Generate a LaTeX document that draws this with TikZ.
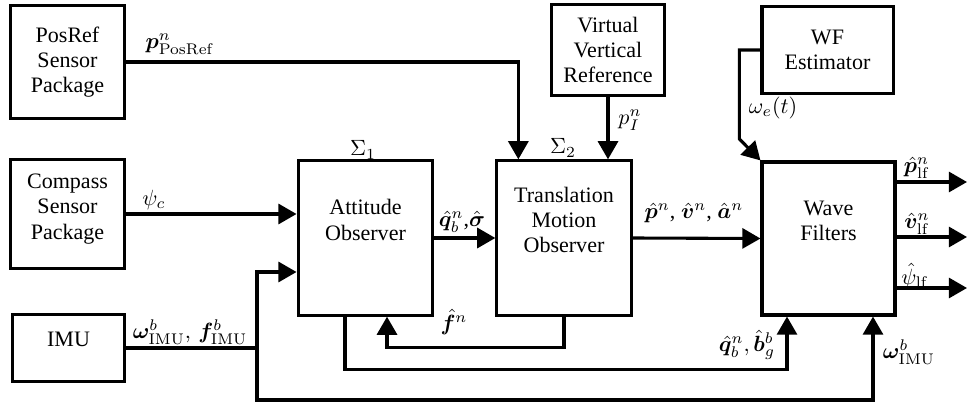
\documentclass[tikz,border=0pt]{standalone}
\usepackage{amsmath,bm}
\usepackage[no-math]{fontspec}
\setmainfont{Liberation Serif}
\usetikzlibrary{arrows.meta,calc}

\begin{document}
\begin{tikzpicture}[x=0.01595cm, y=-0.01595cm,
    font=\fontsize{10}{11.5}\selectfont,
    block/.style={draw, line width=1.4pt, inner sep=0pt},
    inside/.style={align=center},
    line/.style={line width=1.4pt},
    conn/.style={line, -{Triangle[length=0.29cm, width=0.32cm]}}]
    \useasboundingbox (0,0) rectangle (967,407);

    % Blocks
    \node[block, minimum width=1.83cm, minimum height=1.79cm,
        label={[inside]center:PosRef\\Sensor\\Package}] (posref) at (67.5,62) {};
    \node[block, minimum width=1.83cm, minimum height=1.75cm,
        label={[inside, yshift=0.08cm]center:Compass\\Sensor\\Package}] (compass) at (67.5,214) {};
    \node[block, minimum width=1.80cm, minimum height=1.07cm,
        label={[inside, yshift=0.14cm]center:IMU}] (imu) at (68.5,348) {};
    \node[block, minimum width=2.15cm, minimum height=2.46cm,
        label={[inside, yshift=0.29cm]center:Attitude\\Observer}] (att) at (365.5,238) {};
    \node[block, minimum width=2.14cm, minimum height=2.46cm,
        label={[inside, yshift=0.29cm]center:Translation\\Motion\\Observer}] (trans) at (564,238) {};
    \node[block, minimum width=1.79cm, minimum height=1.44cm,
        label={[inside]center:Virtual\\Vertical\\Reference}] (vvr) at (608,50) {};
    \node[block, minimum width=2.09cm, minimum height=1.39cm,
        label={[inside]center:WF\\Estimator}] (wfe) at (827.5,50) {};
    \node[block, minimum width=2.12cm, minimum height=2.44cm,
        label={[inside, yshift=0.28cm]center:Wave\\Filters}] (wave) at (828.5,238.5) {};

    \node (sig1) at (363,150) {$\Sigma_1$};
    \node (sig2) at (563,148) {$\Sigma_2$};

    % Helper points
    \coordinate (split) at (257,348);
    \coordinate (imubot) at (873,400);
    \coordinate (out1) at (967,182);
    \coordinate (out2) at (967,237);
    \coordinate (out3) at (967,288);

    % Sensor inputs
    \draw[conn] (posref.east) -| ($(trans.north west)+(23,0)$);
    \draw[conn] (compass.east) -- (compass.east -| att.west);
    \draw[line] (imu.east) -- (split);
    \draw[conn] (split) |- ($(att.west)+(0,34)$);
    \draw[conn] (split) |- (imubot) -- (imubot |- wave.south);
    \draw[conn] (vvr.south) -- (vvr.south |- trans.north);

    % Observer chain
    \draw[conn] (att.east) -- (trans.west);
    \draw[conn] (trans.east) -- (wave.west);
    \draw[conn] (trans.south) -- ++(0,31) -| ($(att.south)+(21.5,0)$);
    \draw[conn] ($(att.south)+(-20.5,0)$) -- ++(0,53) -| ($(wave.south)+(-41.5,0)$);
    \draw[conn] (wfe.west) -- ++(-21,0) -- ++(0,89) -- (wave.north west);

    % Outputs
    \draw[conn] (out1 -| wave.east) -- (out1);
    \draw[conn] (out2 -| wave.east) -- (out2);
    \draw[conn] (out3 -| wave.east) -- (out3);

    % Signal labels
    \node (lposref) at (180,44) {$\bm{p}^n_{\mathrm{PosRef}}$};
    \node (lpsic) at (154,200) {$\psi_c$};
    \node (limu) at (190,332) {$\bm{\omega}^b_{\mathrm{IMU}},\,\bm{f}^b_{\mathrm{IMU}}$};
    \node (lpi) at (630,120) {$p_I^n$};
    \node (lqs) at (462,222) {$\hat{\bm{q}}_b^n$,$\hat{\bm{\sigma}}$};
    \node (lpva) at (694,213) {$\hat{\bm{p}}^n$, $\hat{\bm{v}}^n$, $\hat{\bm{a}}^n$};
    \node (lf) at (454,322) {$\hat{\bm{f}}^n$};
    \node (lqb) at (747,345) {$\hat{\bm{q}}_b^n,\hat{\bm{b}}_g^b$};
    \node (lwimu) at (909,352) {$\bm{\omega}^b_{\mathrm{IMU}}$};
    \node (lwe) at (773,108) {$\omega_e(t)$};
    \node (lplf) at (917,168) {$\hat{\bm{p}}^n_{\mathrm{lf}}$};
    \node (lvlf) at (917,224) {$\hat{\bm{v}}^n_{\mathrm{lf}}$};
    \node (lpsilf) at (915,276) {$\hat{\psi}_{\mathrm{lf}}$};
\end{tikzpicture}
\end{document}
